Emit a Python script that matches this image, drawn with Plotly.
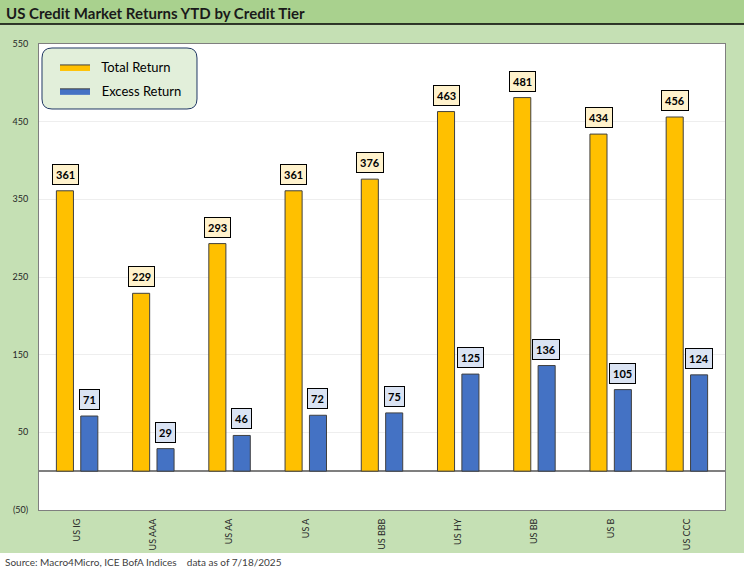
import plotly.graph_objects as go

categories = ["US IG", "US AAA", "US AA", "US A", "US BBB", "US HY", "US BB", "US B", "US CCC"]
total_return = [361, 229, 293, 361, 376, 463, 481, 434, 456]
excess_return = [71, 29, 46, 72, 75, 125, 136, 105, 124]
tick_vals = [-50, 50, 150, 250, 350, 450, 550]
tick_text = ["(50)", "50", "150", "250", "350", "450", "550"]

W, H = 744, 570
L, R, T, B = 39, 19, 44, 60
PW, PH = W - L - R, H - T - B

def px(x):
    return (x - L) / PW

def py(y):
    return (H - B - y) / PH

FONT = "Lato"
GOLD, BLUE, EDGE = "#FFC000", "#4472C4", "#404040"

fig = go.Figure()
fig.add_trace(go.Bar(name="Total Return", x=categories, y=total_return, showlegend=False,
                     marker=dict(color=GOLD, line=dict(color=EDGE, width=1))))
fig.add_trace(go.Bar(name="Excess Return", x=categories, y=excess_return, showlegend=False,
                     marker=dict(color=BLUE, line=dict(color=EDGE, width=1))))
# legend entries (wide swatches like the reference)
for name, col, grp in [("Total Return", GOLD, "a"), ("Excess Return", BLUE, "b")]:
    fig.add_trace(go.Scatter(name="&nbsp;&nbsp;" + name, x=[None], y=[None], mode="lines", fill="toself",
                             fillcolor=col, line=dict(color=EDGE, width=1),
                             legendgroup=grp, hoverinfo="skip"))

annotations = []
for c, v in zip(categories, total_return):
    annotations.append(dict(x=c, y=v, xref="x", yref="y", text="<b>%d</b>" % v, showarrow=False,
                            xshift=-12, yshift=6, yanchor="bottom",
                            bgcolor="#FFF2CC", bordercolor="#000000", borderwidth=1, borderpad=3,
                            font=dict(family=FONT, size=11, color="#000000")))
for c, v in zip(categories, excess_return):
    annotations.append(dict(x=c, y=v, xref="x", yref="y", text="<b>%d</b>" % v, showarrow=False,
                            xshift=12, yshift=6, yanchor="bottom",
                            bgcolor="#DAE3F3", bordercolor="#000000", borderwidth=1, borderpad=3,
                            font=dict(family=FONT, size=11, color="#000000")))

annotations.append(dict(x=px(4), y=py(13), xref="paper", yref="paper", xanchor="left", yanchor="middle",
                        text="<b>US Credit Market Returns YTD by Credit Tier</b>", showarrow=False,
                        font=dict(family=FONT, size=15, color="#1a1a1a")))
annotations.append(dict(x=px(3), y=py(562), xref="paper", yref="paper", xanchor="left", yanchor="middle",
                        text="Source: Macro4Micro, ICE BofA Indices &nbsp;&nbsp;&nbsp;data as of 7/18/2025",
                        showarrow=False, font=dict(family=FONT, size=10, color="#404040")))

# rounded legend box path in paper coords
x0, x1, y0, y1, r = 42, 197, 48, 109, 10
def P(x, y):
    return "%.5f,%.5f" % (px(x), py(y))
path = ("M " + P(x0 + r, y0) + " L " + P(x1 - r, y0) + " Q " + P(x1, y0) + " " + P(x1, y0 + r) +
        " L " + P(x1, y1 - r) + " Q " + P(x1, y1) + " " + P(x1 - r, y1) +
        " L " + P(x0 + r, y1) + " Q " + P(x0, y1) + " " + P(x0, y1 - r) +
        " L " + P(x0, y0 + r) + " Q " + P(x0, y0) + " " + P(x0 + r, y0) + " Z")

shapes = [
    dict(type="rect", xref="paper", yref="paper", x0=px(0), x1=px(W), y0=py(0), y1=py(24),
         fillcolor="#A9D18E", line=dict(width=0), layer="below"),
    dict(type="line", xref="paper", yref="paper", x0=px(0), x1=px(W), y0=py(24), y1=py(24),
         line=dict(color="#000000", width=1.5)),
    dict(type="rect", xref="paper", yref="paper", x0=px(0), x1=px(W), y0=py(553), y1=py(H),
         fillcolor="#FFFFFF", line=dict(width=0), layer="below"),
    dict(type="path", xref="paper", yref="paper", path=path, fillcolor="#E2EFDA",
         line=dict(color="#203864", width=1), layer="above"),
]

fig.update_layout(
    width=W, height=H, autosize=False,
    margin=dict(l=L, r=R, t=T, b=B, pad=0),
    paper_bgcolor="#C5E0B4", plot_bgcolor="#FFFFFF",
    barmode="group", bargap=0.36, bargroupgap=0.3,
    showlegend=True,
    legend=dict(x=px(55), y=py(52), xanchor="left", yanchor="top", bgcolor="rgba(0,0,0,0)",
                borderwidth=0, font=dict(family=FONT, size=13, color="#000000"),
                tracegroupgap=4, traceorder="grouped"),
    annotations=annotations, shapes=shapes,
    xaxis=dict(tickangle=-90, tickfont=dict(family=FONT, size=9, color="#262626"),
               showline=True, linecolor="#7f7f7f", linewidth=1, mirror=True, ticks="",
               showgrid=False, ticklabelstandoff=4),
    yaxis=dict(range=[-50, 550], tickvals=tick_vals, ticktext=tick_text,
               tickfont=dict(family=FONT, size=9, color="#262626"),
               showgrid=True, gridcolor="#EEEEEE", gridwidth=1,
               zeroline=True, zerolinecolor="#7f7f7f", zerolinewidth=1.5,
               showline=True, linecolor="#7f7f7f", linewidth=1, mirror=True, ticks="",
               ticklabelstandoff=8),
)

fig.write_html("out.html", config={"displayModeBar": False},
               post_script="document.body.style.margin='0px';document.body.style.overflow='hidden';")
